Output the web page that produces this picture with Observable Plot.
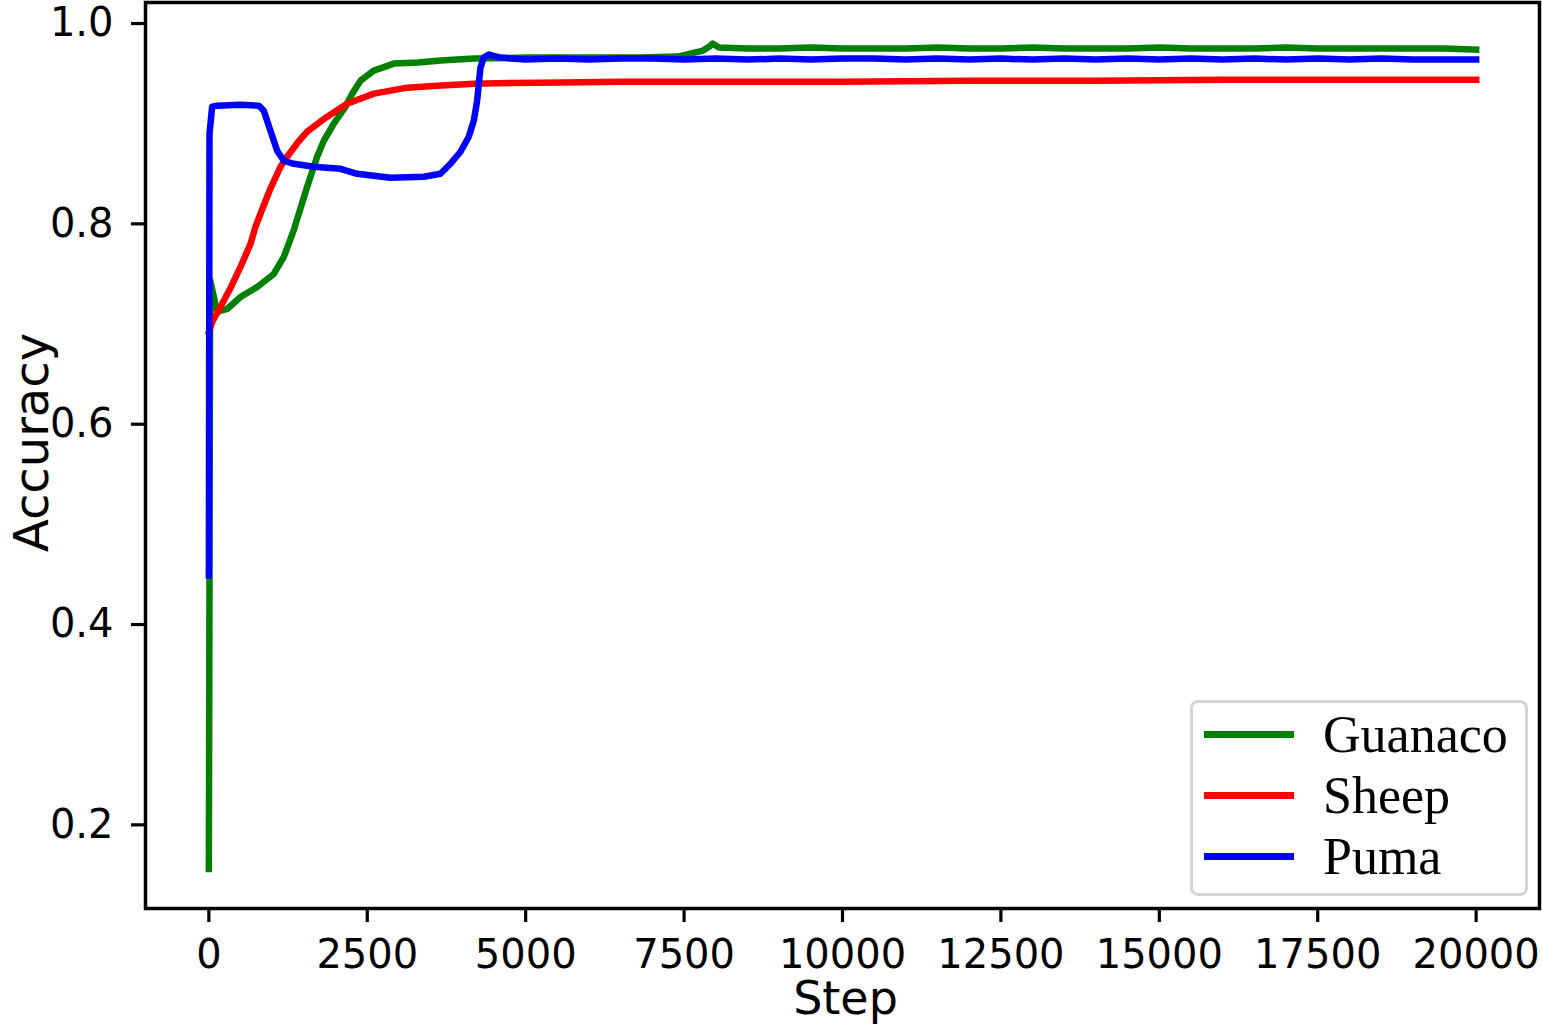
<!DOCTYPE html>
<html>
<head>
<meta charset="utf-8">
<script src="https://cdn.jsdelivr.net/npm/d3@7"></script>
<script src="https://cdn.jsdelivr.net/npm/@observablehq/plot@0.6"></script>
<style>
  html, body { margin: 0; padding: 0; background: white; }
  #wrap { position: relative; width: 1542px; height: 1025px; overflow: hidden; }
  #legend {
    position: absolute; left: 1190px; top: 700px; width: 332px; height: 190px;
    border: 3px solid #d4d4d4; border-radius: 8px; background: rgba(255,255,255,0.8);
    box-sizing: content-box; padding-top: 0px;
  }
  .row { display: flex; align-items: center; height: 61px; }
  .row:first-child { margin-top: 1px; }
  .sw { width: 90px; height: 6.5px; margin-left: 11px; margin-right: 29px; }
  .lab { font-family: "Liberation Serif", "Times New Roman", serif; font-size: 52px; line-height: 61px; color: black; }
</style>
</head>
<body>
<div id="wrap"></div>
<script>
// ---- data ----
const seriesNames = ["Guanaco", "Sheep", "Puma"];
const seriesColors = ["#008000", "#ff0000", "#0000ff"];

const xTicks = [0, 2500, 5000, 7500, 10000, 12500, 15000, 17500, 20000];
const yTicks = [0.2, 0.4, 0.6, 0.8, 1.0];

const guanacoStep = [0, 20, 130, 288, 499, 762, 1025, 1183, 1341, 1551, 1709, 1814, 1972, 2156, 2262, 2393, 2603, 2918, 3300, 3655, 4181, 5000, 6000, 6800, 7400, 7600, 7800, 7900, 7950, 8050, 8500, 9000, 9500, 10000, 10500, 11000, 11500, 12000, 12500, 13000, 13500, 14000, 14500, 15000, 15500, 16000, 16500, 17000, 17500, 18000, 18500, 19000, 19500, 20000];
const guanacoAcc  = [0.156, 0.744, 0.712, 0.715, 0.727, 0.737, 0.750, 0.767, 0.794, 0.837, 0.867, 0.883, 0.900, 0.917, 0.930, 0.943, 0.953, 0.960, 0.961, 0.963, 0.965, 0.966, 0.966, 0.966, 0.967, 0.970, 0.973, 0.977, 0.980, 0.976, 0.975, 0.975, 0.976, 0.975, 0.975, 0.975, 0.976, 0.975, 0.975, 0.976, 0.975, 0.975, 0.975, 0.976, 0.975, 0.975, 0.975, 0.976, 0.975, 0.975, 0.975, 0.975, 0.975, 0.974];

const sheepStep = [0, 52, 183, 350, 499, 657, 735, 814, 970, 1130, 1235, 1400, 1551, 1867, 2183, 2603, 3130, 3600, 4181, 5234, 6500, 8000, 10000, 12000, 14000, 16000, 18000, 20000];
const sheepAcc  = [0.692, 0.702, 0.717, 0.737, 0.757, 0.780, 0.797, 0.810, 0.835, 0.857, 0.867, 0.881, 0.892, 0.907, 0.920, 0.930, 0.936, 0.938, 0.940, 0.941, 0.942, 0.942, 0.942, 0.943, 0.943, 0.944, 0.944, 0.944];

const pumaStep = [0, 10, 52, 130, 499, 788, 867, 972, 1078, 1183, 1341, 1656, 2077, 2340, 2866, 3392, 3655, 3813, 3971, 4102, 4181, 4234, 4286, 4339, 4418, 4602, 5000, 5500, 6000, 6500, 7000, 7500, 8000, 8500, 9000, 9500, 10000, 10500, 11000, 11500, 12000, 12500, 13000, 13500, 14000, 14500, 15000, 15500, 16000, 16500, 17000, 17500, 18000, 18500, 19000, 19500, 20000];
const pumaAcc  = [0.449, 0.890, 0.917, 0.918, 0.919, 0.918, 0.913, 0.893, 0.873, 0.863, 0.860, 0.857, 0.855, 0.850, 0.846, 0.847, 0.850, 0.860, 0.872, 0.887, 0.903, 0.923, 0.956, 0.966, 0.969, 0.966, 0.964, 0.965, 0.964, 0.965, 0.965, 0.964, 0.965, 0.964, 0.965, 0.964, 0.965, 0.965, 0.964, 0.965, 0.964, 0.965, 0.964, 0.965, 0.964, 0.965, 0.964, 0.965, 0.964, 0.965, 0.964, 0.965, 0.964, 0.965, 0.964, 0.964, 0.964];

const xLabel = "Step";
const yLabel = "Accuracy";

// ---- build tables ----
const toRows = (steps, accs, name) => steps.map((s, i) => ({step: s, acc: accs[i], series: name}));
const tables = [
  toRows(guanacoStep, guanacoAcc, seriesNames[0]),
  toRows(sheepStep, sheepAcc, seriesNames[1]),
  toRows(pumaStep, pumaAcc, seriesNames[2])
];

const axisFont = "DejaVu Sans";

const chart = Plot.plot({
  width: 1542,
  height: 1025,
  marginLeft: 145,
  marginRight: 3,
  marginTop: 2,
  marginBottom: 117,
  style: {fontFamily: axisFont, fontSize: "40px", color: "black", background: "white", overflow: "visible"},
  x: {domain: [-1000, 21000]},
  y: {domain: [0.1165, 1.021]},
  marks: [
    ...tables.map((t, i) => Plot.line(t, {
      x: "step", y: "acc", stroke: seriesColors[i], strokeWidth: 6.5,
      strokeLinejoin: "round", strokeLinecap: "square", curve: "linear"
    })),
    Plot.frame({stroke: "black", strokeWidth: 3.5}),
    Plot.axisX({ticks: xTicks, tickFormat: d3.format("d"), tickSize: 14, tickPadding: 17, strokeWidth: 3.2, label: null, fontSize: 40}),
    Plot.axisY({ticks: yTicks, tickFormat: d3.format(".1f"), tickSize: 14, tickPadding: 18, strokeWidth: 3.2, label: null, fontSize: 40}),
    Plot.text([yLabel], {text: d => d, frameAnchor: "left", rotate: -90, dx: -98, dy: -13, textAnchor: "middle", lineAnchor: "bottom", fontSize: 48, fontFamily: axisFont, fill: "black"}),
    Plot.text([xLabel], {text: d => d, frameAnchor: "bottom", dx: 3, dy: 105, textAnchor: "middle", lineAnchor: "bottom", fontSize: 46, fontFamily: axisFont, fill: "black"})
  ]
});

const wrap = document.getElementById("wrap");
wrap.appendChild(chart);

// legend (overlay inside the axes, lower right)
const legend = document.createElement("div");
legend.id = "legend";
seriesNames.forEach((name, i) => {
  const row = document.createElement("div");
  row.className = "row";
  const sw = document.createElement("div");
  sw.className = "sw";
  sw.style.background = seriesColors[i];
  const lab = document.createElement("span");
  lab.className = "lab";
  lab.textContent = name;
  row.appendChild(sw);
  row.appendChild(lab);
  legend.appendChild(row);
});
wrap.appendChild(legend);
</script>
</body>
</html>
